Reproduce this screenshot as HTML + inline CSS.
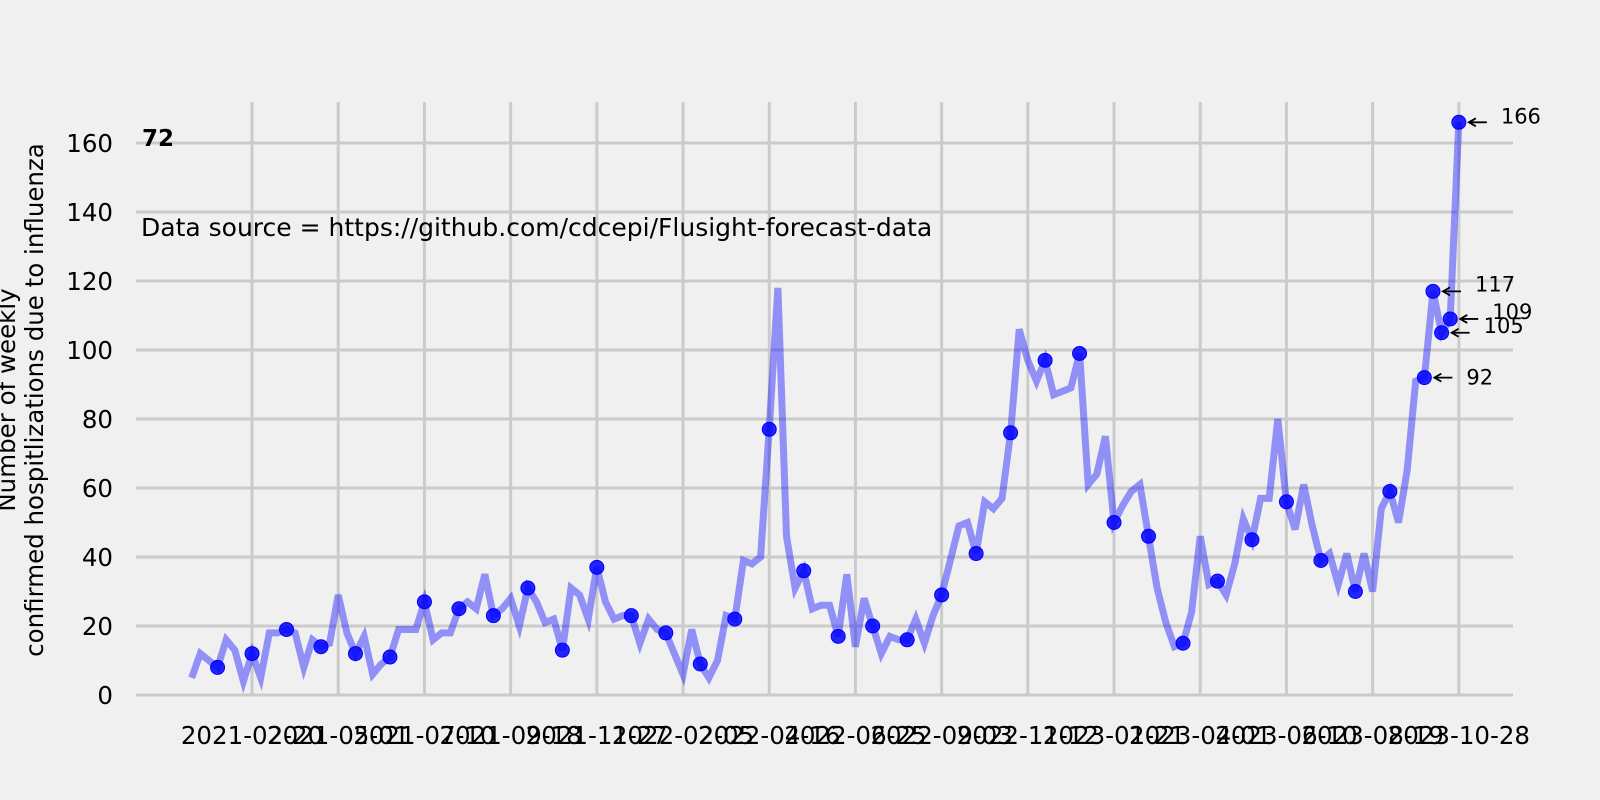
<!DOCTYPE html>
<html><head><meta charset="utf-8">
<style>
html,body{margin:0;padding:0;background:#f0f0f0;}
svg{display:block;font-family:"DejaVu Sans","Liberation Sans",sans-serif;}
</style></head>
<body>
<svg id="chart" width="1600" height="800" viewBox="0 0 1600 800" xmlns="http://www.w3.org/2000/svg">
<rect x="0" y="0" width="1600" height="800" fill="#f0f0f0"/>
<g id="grid"></g>
<g id="series"></g>
<g id="axes"></g>
<text x="142" y="146" font-size="23" font-weight="bold" fill="#000">72</text>
<text x="141" y="236" font-size="25" fill="#000">Data source = https://github.com/cdcepi/Flusight-forecast-data</text>
<g font-size="24.5" fill="#000" text-anchor="middle">
<text transform="translate(15,400) rotate(-90)">Number of weekly</text>
<text transform="translate(43,400) rotate(-90)">confirmed hospitlizations due to influenza</text>
</g>
</svg>
<script>
const values = [5,12,10,8,16,13,4,12,5,18,18,19,18,8,16,14,15,29,18,12,17,6,9,11,19,19,19,27,16,18,18,25,27,25,35,23,25,28,20,31,27,21,22,13,31,29,22,37,27,22,23,23,15,22,19,18,12,6,19,9,5,10,23,22,39,38,40,77,118,46,31,36,25,26,26,17,35,14,28,20,12,17,16,16,22,15,23,29,39,49,50,41,56,54,57,76,106,97,91,97,87,88,89,99,61,64,75,50,55,59,61,46,31,21,14,15,24,46,32,33,29,38,51,45,57,57,80,56,48,61,49,39,41,32,41,30,41,30,54,59,50,65,91,92,117,105,109,166];
const xTickLabels = ["2021-02-20","2021-05-01","2021-07-10","2021-09-18","2021-11-27","2022-02-05","2022-04-16","2022-06-25","2022-09-03","2022-11-12","2023-01-21","2023-04-01","2023-06-10","2023-08-19","2023-10-28"];
const xTickWeeks = [7,17,27,37,47,57,67,77,87,97,107,117,127,137,147];
const yTicks = [0,20,40,60,80,100,120,140,160];
const annotated = [143,144,145,146,147];
const annLabelOffsets = [[30,0],[30,-7],[30,-7],[30,-7],[30,-6]];

const NS = "http://www.w3.org/2000/svg";
const x = w => 191.7 + w * 8.62;
const y = v => 695 - v * 3.45;
function mk(tag, attrs, parent){const e=document.createElementNS(NS,tag);for(const k in attrs)e.setAttribute(k,attrs[k]);parent.appendChild(e);return e;}
const grid=document.getElementById('grid'), series=document.getElementById('series'), axes=document.getElementById('axes');

yTicks.forEach(t=>{
  const l=mk('line',{x1:136,x2:1513,y1:y(t),y2:y(t),stroke:'#cbcbcb','stroke-width':3},grid);
  
  
  const tx=mk('text',{x:113,y:y(t)+9,'font-size':24.5,'text-anchor':'end',fill:'#000'},axes);
  tx.textContent=t;
  
  
});
xTickWeeks.forEach((w,i)=>{
  const l=mk('line',{x1:x(w),x2:x(w),y1:102,y2:y(0),stroke:'#cbcbcb','stroke-width':3},grid);
  
  
  const tx=mk('text',{x:x(w),y:744,'font-size':24.5,'text-anchor':'middle',fill:'#000'},axes);
  tx.textContent=xTickLabels[i];
  
  
});

const pts=values.map((v,i)=>x(i).toFixed(1)+','+y(v).toFixed(1)).join(' ');
const line=mk('polyline',{points:pts,fill:'none',stroke:'#0000ff','stroke-opacity':0.4,'stroke-width':7,'stroke-linejoin':'miter'},series);



values.forEach((v,i)=>{
  if(i%4===3 || annotated.includes(i)){
    const c=mk('circle',{cx:x(i),cy:y(v),r:7,fill:'#0000ff','fill-opacity':0.85,stroke:'#0000ff','stroke-width':1},series);
    
    
  }
});

annotated.forEach((i,k)=>{
  const v=values[i], px=x(i), py=y(v);
  const a=mk('path',{d:`M${px+28},${py} L${px+10},${py} M${px+17},${py-4} L${px+10},${py} L${px+17},${py+4}`,fill:'none',stroke:'#000','stroke-width':1.8},series);
  
  
  const t=mk('text',{x:px+annLabelOffsets[k][0]+12,y:py+annLabelOffsets[k][1]+7,'font-size':21,fill:'#000'},series);
  t.textContent=v;
  
  
});
</script>
</body></html>
